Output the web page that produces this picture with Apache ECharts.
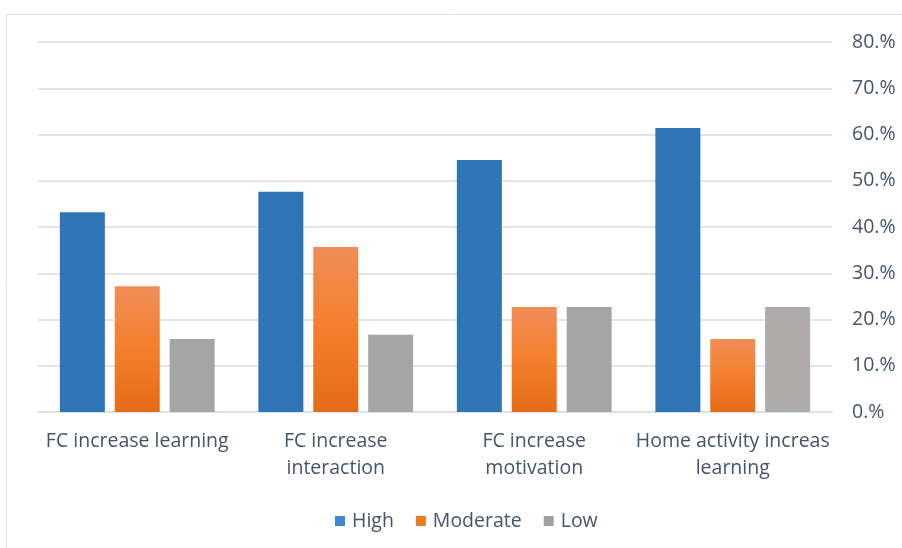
<!DOCTYPE html>
<html>
<head>
<meta charset="utf-8">
<script src="https://cdn.jsdelivr.net/npm/echarts@6/dist/echarts.min.js"></script>
<style>
  html, body { margin: 0; padding: 0; background: #ffffff; }
  #chart { width: 902px; height: 548px; }
</style>
</head>
<body>
<div id="chart"></div>
<script>
// Survey statements (axis categories, line breaks as displayed)
const categories = [
  'FC increase learning',
  'FC increase\ninteraction',
  'FC increase\nmotivation',
  'Home activity increas\nlearning'
];

// Share of responses per level, in percent
const highValues     = [43.2, 47.6, 54.5, 61.4];
const moderateValues = [27.2, 35.7, 22.7, 15.8];
const lowValues      = [15.8, 16.7, 22.7, 22.7];

// Value axis ticks
const axisMax = 80;
const axisStep = 10;

const TEXT = '#44546A';
const FONT = 'Open Sans';
const FONT_SIZE = 19.5;

const orangeFill = new echarts.graphic.LinearGradient(0, 0, 0, 1, [
  { offset: 0, color: '#F08D59' },
  { offset: 0.45, color: '#F4812F' },
  { offset: 1, color: '#E46B17' }
]);

const chart = echarts.init(document.getElementById('chart'), null, { renderer: 'canvas' });

chart.setOption({
  animation: false,
  backgroundColor: '#ffffff',
  graphic: [{
    type: 'rect',
    silent: true,
    shape: { x: 6.5, y: 14.5, width: 1200, height: 1200 },
    style: { fill: 'none', stroke: '#DCE2E9', lineWidth: 1 }
  }],
  grid: { left: 38, right: 70, top: 42, bottom: 136 },
  legend: {
    bottom: 12,
    left: 330,
    icon: 'rect',
    itemWidth: 10,
    itemHeight: 10,
    itemGap: 22,
    textStyle: { color: TEXT, fontFamily: FONT, fontSize: FONT_SIZE, padding: [0, 0, 0, 2] },
    data: [
      { name: 'High', itemStyle: { color: '#3F87CF' } },
      { name: 'Moderate', itemStyle: { color: '#EF7A22' } },
      { name: 'Low', itemStyle: { color: '#A0A0A0' } }
    ]
  },
  xAxis: {
    type: 'category',
    data: categories,
    axisLine: { show: true, lineStyle: { color: '#DDE2E8', width: 2 } },
    axisTick: { show: false },
    axisLabel: {
      color: TEXT,
      fontFamily: FONT,
      fontSize: FONT_SIZE,
      lineHeight: 27,
      margin: 16,
      interval: 0
    }
  },
  yAxis: {
    type: 'value',
    position: 'right',
    min: 0,
    max: axisMax,
    interval: axisStep,
    axisLine: { show: false },
    axisTick: { show: false },
    splitLine: { lineStyle: { color: '#E1E5EB', width: 2 } },
    axisLabel: {
      color: TEXT,
      fontFamily: FONT,
      fontSize: FONT_SIZE,
      margin: 20,
      formatter: v => v + '.%'
    }
  },
  series: [
    {
      name: 'High',
      type: 'bar',
      data: highValues,
      barWidth: 45,
      barGap: '22%',
      itemStyle: { color: '#2E75B6' }
    },
    {
      name: 'Moderate',
      type: 'bar',
      data: moderateValues,
      barWidth: 45,
      barGap: '22%',
      itemStyle: { color: orangeFill }
    },
    {
      name: 'Low',
      type: 'bar',
      data: lowValues,
      barWidth: 45,
      barGap: '22%',
      itemStyle: {
        color: p => (p.dataIndex === 3 ? '#AFABAB' : '#A5A5A5')
      }
    }
  ]
});
</script>
</body>
</html>
